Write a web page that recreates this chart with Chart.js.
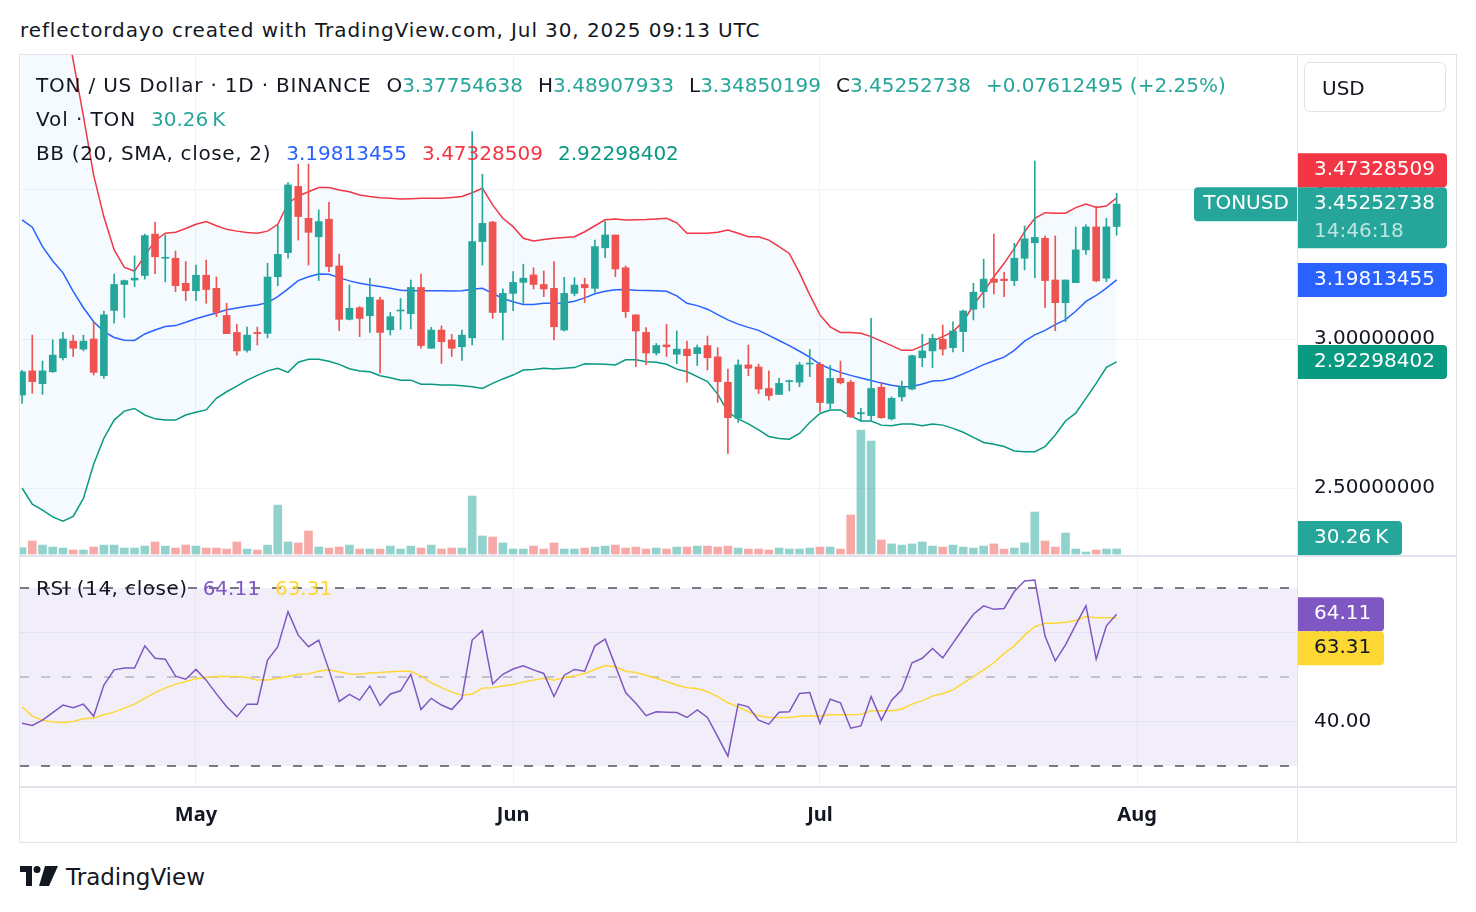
<!DOCTYPE html>
<html>
<head>
<meta charset="utf-8">
<title>TON / US Dollar · 1D · BINANCE</title>
<script src="https://cdn.jsdelivr.net/npm/chart.js@4.4.0/dist/chart.umd.min.js"></script>
<style>
  body { margin: 0; background: #fff; width: 1476px; height: 912px; position: relative; overflow: hidden;
         font-family: "DejaVu Sans", sans-serif; color: #131722; }
  .abs { position: absolute; }
  .line { background: #e0e3eb; position: absolute; z-index: 5; }
  #title { left: 20px; top: 16px; font-size: 20px; line-height: 28px; white-space: nowrap; letter-spacing: 0.9px; }
  .legend { left: 36px; font-size: 20px; line-height: 24px; white-space: nowrap; z-index: 6; }
  .legend .v { margin-left: 15px; }
  .up { color: #26a69a; }
  #usd { left: 1304px; top: 62px; width: 142px; height: 50px; border: 1px solid #e0e3eb; border-radius: 6px;
         font-size: 20px; line-height: 50px; box-sizing: border-box; padding-left: 17px; z-index: 6; }
  #logo { left: 20px; top: 866px; }
  #brand { left: 66px; top: 862px; font-size: 23px; line-height: 30px; }
</style>
</head>
<body>
<div id="title" class="abs">reflectordayo created with TradingView.com, Jul 30, 2025 09:13 UTC</div>

<canvas id="priceChart" class="abs" width="1436" height="500" style="left:20px;top:55px"></canvas>
<canvas id="rsiChart" class="abs" width="1436" height="285" style="left:20px;top:557px"></canvas>

<!-- frame and pane separators -->
<div class="line" style="left:19px;top:54px;width:1438px;height:1px"></div>
<div class="line" style="left:19px;top:842px;width:1438px;height:1px"></div>
<div class="line" style="left:19px;top:54px;width:1px;height:789px"></div>
<div class="line" style="left:1456px;top:54px;width:1px;height:789px"></div>
<div class="line" style="left:1297px;top:54px;width:1px;height:789px"></div>
<div class="line" style="left:20px;top:555px;width:1436px;height:2px"></div>
<div class="line" style="left:20px;top:786px;width:1436px;height:2px"></div>

<div class="abs legend" style="top:73px"><span style="letter-spacing:0.8px">TON / US Dollar · 1D · BINANCE</span><span class="v">O<span class="up" id="legO"></span></span><span class="v">H<span class="up" id="legH"></span></span><span class="v">L<span class="up" id="legL"></span></span><span class="v">C<span class="up" id="legC"></span></span><span class="v up" id="legChg"></span></div>
<div class="abs legend" style="top:107px"><span style="letter-spacing:0.9px">Vol · TON</span><span class="v up" id="legVol"></span></div>
<div class="abs legend" style="top:141px"><span style="letter-spacing:0.65px">BB (20, SMA, close, 2)</span><span class="v" style="color:#2962ff" id="legBasis"></span><span class="v" style="color:#f23645" id="legUpper"></span><span class="v" style="color:#089981" id="legLower"></span></div>
<div class="abs legend" style="top:576px"><span style="letter-spacing:0.5px">RSI (14, close)</span><span class="v" style="color:#7e57c2" id="legRsi"></span><span class="v" style="color:#fdd835" id="legRsiMa"></span></div>

<div id="usd" class="abs">USD</div>

<svg id="logo" class="abs" width="40" height="22" viewBox="0 0 40 22">
  <path d="M0 0 H12 V20 H6 V6 H0 Z" fill="#131722"/>
  <circle cx="17" cy="3.5" r="3.5" fill="#131722"/>
  <path d="M25 0 H38 L29 20 H19 Z" fill="#131722"/>
</svg>
<div id="brand" class="abs">TradingView</div>

<script>
// ========== DATA ========== //
// one daily candle per entry, Apr 14 2025 .. Jul 30 2025 (index 0 .. 107)
const monthTicks = [17, 48, 78, 109];
const monthLabels = ['May', 'Jun', 'Jul', 'Aug'];
const priceTicks = [2.5, 3.0, 3.5];
const rsiTicks = [40, 60];
const rsiLevels = [70, 50, 30];

const openPrices = [
  2.812, 2.893, 2.850, 2.890, 2.937, 2.993, 2.966, 3.000, 2.877, 3.096,
  3.183, 3.198, 3.213, 3.352, 3.271, 3.271, 3.187, 3.162, 3.214, 3.170,
  3.079, 3.022, 2.962, 3.022, 3.019, 3.209, 3.290, 3.512, 3.405, 3.343,
  3.402, 3.245, 3.066, 3.105, 3.078, 3.131, 3.031, 3.094, 3.085, 3.173,
  2.969, 3.030, 2.997, 2.974, 3.004, 3.327, 3.392, 3.089, 3.153, 3.190,
  3.215, 3.183, 3.170, 3.030, 3.153, 3.183, 3.170, 3.306, 3.349, 3.239,
  3.081, 3.022, 2.953, 2.980, 2.949, 2.966, 2.951, 2.978, 2.940, 2.855,
  2.734, 2.913, 2.906, 2.834, 2.814, 2.857, 2.855, 2.916, 2.915, 2.784,
  2.868, 2.855, 2.749, 2.743, 2.838, 2.732, 2.806, 2.832, 2.937, 2.960,
  2.999, 2.971, 3.025, 3.100, 3.159, 3.201, 3.201, 3.196, 3.271, 3.323,
  3.338, 3.198, 3.122, 3.189, 3.299, 3.376, 3.204, 3.37754638
];
const highPrices = [
  2.895, 3.013, 2.926, 2.997, 3.022, 3.013, 3.013, 3.056, 3.094, 3.218,
  3.198, 3.279, 3.352, 3.392, 3.349, 3.295, 3.260, 3.248, 3.265, 3.208,
  3.120, 3.049, 3.040, 3.040, 3.254, 3.383, 3.525, 3.587, 3.587, 3.433,
  3.459, 3.285, 3.181, 3.109, 3.204, 3.140, 3.089, 3.136, 3.198, 3.218,
  3.039, 3.044, 3.016, 3.030, 3.696, 3.553, 3.395, 3.168, 3.226, 3.251,
  3.239, 3.228, 3.260, 3.207, 3.206, 3.204, 3.332, 3.394, 3.349, 3.245,
  3.081, 3.038, 2.985, 3.049, 3.027, 2.993, 2.980, 3.010, 2.971, 2.899,
  2.930, 2.980, 2.916, 2.893, 2.868, 2.862, 2.922, 2.965, 2.922, 2.911,
  2.926, 2.862, 2.767, 3.069, 2.855, 2.806, 2.859, 2.946, 3.016, 3.016,
  3.047, 3.058, 3.097, 3.187, 3.268, 3.352, 3.224, 3.321, 3.379, 3.597,
  3.346, 3.346, 3.198, 3.376, 3.383, 3.446, 3.405, 3.48907933
];
const lowPrices = [
  2.784, 2.818, 2.814, 2.888, 2.930, 2.941, 2.960, 2.879, 2.868, 3.053,
  3.072, 3.176, 3.201, 3.219, 3.192, 3.159, 3.129, 3.129, 3.120, 3.075,
  3.018, 2.946, 2.956, 2.980, 3.004, 3.179, 3.271, 3.332, 3.248, 3.196,
  3.226, 3.028, 3.064, 3.008, 3.022, 2.885, 3.013, 3.032, 3.034, 2.969,
  2.969, 2.918, 2.941, 2.928, 2.980, 3.248, 3.069, 2.997, 3.095, 3.120,
  3.168, 3.142, 2.997, 3.027, 3.145, 3.123, 3.157, 3.273, 3.209, 3.072,
  2.907, 2.913, 2.946, 2.941, 2.917, 2.855, 2.911, 2.896, 2.787, 2.616,
  2.720, 2.877, 2.817, 2.795, 2.814, 2.826, 2.840, 2.874, 2.756, 2.765,
  2.849, 2.736, 2.723, 2.725, 2.734, 2.728, 2.792, 2.829, 2.907, 2.904,
  2.946, 2.957, 2.957, 3.064, 3.105, 3.151, 3.142, 3.179, 3.232, 3.206,
  3.105, 3.028, 3.058, 3.189, 3.284, 3.192, 3.192, 3.34850199
];
const closePrices = [
  2.890, 2.857, 2.893, 2.946, 3.000, 2.969, 2.993, 2.888, 3.081, 3.183,
  3.196, 3.204, 3.347, 3.276, 3.274, 3.179, 3.162, 3.214, 3.166, 3.089,
  3.018, 2.960, 3.013, 3.018, 3.208, 3.284, 3.517, 3.411, 3.358, 3.394,
  3.243, 3.066, 3.103, 3.069, 3.140, 3.022, 3.075, 3.097, 3.173, 2.978,
  3.030, 2.991, 2.969, 3.013, 3.327, 3.388, 3.089, 3.153, 3.190, 3.204,
  3.183, 3.168, 3.041, 3.153, 3.181, 3.172, 3.310, 3.349, 3.235, 3.092,
  3.027, 2.953, 2.978, 2.974, 2.966, 2.944, 2.971, 2.937, 2.857, 2.736,
  2.913, 2.902, 2.832, 2.810, 2.851, 2.860, 2.913, 2.918, 2.787, 2.868,
  2.853, 2.739, 2.753, 2.834, 2.736, 2.801, 2.840, 2.944, 2.960, 3.002,
  2.966, 3.027, 3.094, 3.157, 3.201, 3.190, 3.196, 3.271, 3.336, 3.341,
  3.196, 3.122, 3.198, 3.299, 3.376, 3.195, 3.37640243, 3.45252738
];
// volume in thousands of TON
const volumes = [
  38, 79, 54, 42, 36, 24, 24, 42, 54, 54,
  36, 36, 48, 73, 48, 36, 54, 48, 36, 36,
  30, 73, 30, 24, 54, 296, 73, 67, 139, 42,
  36, 42, 54, 30, 30, 30, 48, 30, 48, 36,
  54, 30, 36, 36, 351, 109, 103, 67, 30, 30,
  48, 30, 67, 30, 30, 36, 42, 48, 54, 36,
  42, 30, 36, 30, 42, 42, 48, 48, 42, 48,
  36, 30, 30, 24, 36, 30, 30, 36, 42, 42,
  30, 236, 750, 684, 85, 61, 54, 61, 73, 48,
  42, 54, 42, 36, 48, 61, 30, 36, 67, 254,
  79, 42, 127, 30, 12, 24, 30, 30.26
];
const bbUpper = [
  4.60, 4.52, 4.42, 4.28, 4.12, 3.935, 3.748, 3.55, 3.41, 3.30,
  3.24, 3.228, 3.28, 3.33, 3.355, 3.358, 3.371, 3.385, 3.394, 3.38,
  3.368, 3.362, 3.357, 3.355, 3.362, 3.385, 3.455, 3.48, 3.494, 3.508,
  3.508, 3.500, 3.494, 3.483, 3.478, 3.474, 3.472, 3.470, 3.471, 3.472,
  3.472, 3.472, 3.475, 3.478, 3.491, 3.506, 3.450, 3.405, 3.377, 3.338,
  3.329, 3.334, 3.338, 3.341, 3.343, 3.36, 3.38, 3.40, 3.403, 3.399,
  3.400, 3.401, 3.403, 3.405, 3.390, 3.355, 3.355, 3.355, 3.358, 3.366,
  3.355, 3.343, 3.343, 3.332, 3.310, 3.287, 3.222, 3.148, 3.081, 3.041,
  3.022, 3.022, 3.019, 3.008, 2.993, 2.978, 2.962, 2.962, 2.977, 2.993,
  3.008, 3.025, 3.058, 3.114, 3.159, 3.209, 3.254, 3.304, 3.360, 3.405,
  3.424, 3.422, 3.422, 3.441, 3.453, 3.441, 3.446, 3.47328509
];
const bbBasis = [
  3.40, 3.375, 3.31, 3.262, 3.222, 3.16, 3.105, 3.058, 3.025, 3.005,
  2.996, 2.995, 3.017, 3.030, 3.042, 3.045, 3.056, 3.068, 3.078, 3.087,
  3.098, 3.104, 3.110, 3.114, 3.122, 3.142, 3.168, 3.196, 3.209, 3.218,
  3.217, 3.206, 3.195, 3.187, 3.181, 3.176, 3.170, 3.164, 3.162, 3.162,
  3.162, 3.162, 3.161, 3.162, 3.167, 3.170, 3.153, 3.136, 3.125, 3.116,
  3.116, 3.120, 3.120, 3.121, 3.127, 3.138, 3.152, 3.160, 3.165, 3.166,
  3.164, 3.163, 3.162, 3.160, 3.145, 3.120, 3.112, 3.100, 3.082, 3.064,
  3.050, 3.039, 3.029, 3.012, 2.995, 2.978, 2.959, 2.939, 2.915, 2.900,
  2.888, 2.878, 2.869, 2.861, 2.852, 2.845, 2.840, 2.841, 2.849, 2.859,
  2.861, 2.869, 2.883, 2.898, 2.914, 2.927, 2.939, 2.962, 2.993, 3.014,
  3.029, 3.048, 3.065, 3.093, 3.126, 3.146, 3.171, 3.19813455
];
const bbLower = [
  2.500, 2.446, 2.426, 2.403, 2.389, 2.405, 2.465, 2.58, 2.667, 2.728,
  2.758, 2.767, 2.745, 2.732, 2.728, 2.728, 2.745, 2.754, 2.762, 2.801,
  2.823, 2.842, 2.862, 2.878, 2.893, 2.902, 2.888, 2.922, 2.932, 2.932,
  2.925, 2.915, 2.900, 2.893, 2.890, 2.877, 2.870, 2.862, 2.862, 2.848,
  2.848, 2.846, 2.846, 2.843, 2.840, 2.834, 2.851, 2.866, 2.879, 2.896,
  2.898, 2.902, 2.899, 2.902, 2.904, 2.917, 2.916, 2.915, 2.913, 2.930,
  2.930, 2.924, 2.922, 2.915, 2.899, 2.890, 2.874, 2.857, 2.815, 2.755,
  2.732, 2.715, 2.695, 2.673, 2.666, 2.664, 2.683, 2.720, 2.750, 2.762,
  2.762, 2.742, 2.725, 2.725, 2.711, 2.709, 2.715, 2.715, 2.709, 2.715,
  2.711, 2.700, 2.687, 2.670, 2.653, 2.647, 2.639, 2.624, 2.622, 2.622,
  2.639, 2.678, 2.725, 2.751, 2.801, 2.851, 2.905, 2.92298402
];
const rsiValues = [
  39.6, 39.1, 40.3, 42.0, 43.7, 43.1, 43.9, 41.2, 48.2, 51.6,
  52.0, 52.0, 57.0, 54.2, 54.0, 50.2, 49.5, 51.7, 49.3, 46.2,
  43.3, 41.1, 43.9, 43.9, 53.8, 56.8, 64.7, 59.4, 56.8, 58.3,
  51.6, 44.5, 46.1, 44.8, 48.0, 43.6, 46.2, 46.9, 50.6, 42.7,
  45.2, 43.7, 42.7, 45.2, 58.3, 60.4, 48.4, 50.6, 51.8, 52.5,
  51.6, 50.8, 45.6, 50.4, 51.7, 51.3, 57.0, 58.5, 52.5, 46.5,
  44.1, 41.3, 42.2, 42.1, 42.0, 40.9, 42.6, 40.9, 36.6, 32.2,
  43.9, 43.3, 40.3, 39.4, 42.1, 42.2, 46.3, 46.5, 39.6, 45.0,
  44.2, 38.5, 39.0, 45.6, 40.3, 44.8, 47.1, 53.2, 54.2, 56.4,
  54.3, 57.6, 60.9, 64.1, 66.0, 65.2, 65.4, 69.2, 71.6, 71.8,
  59.2, 53.6, 57.2, 61.7, 66.0, 54.0, 61.5, 64.11
];
const rsiMA = [
  43.3, 41.2, 40.3, 39.9, 39.8, 40.0, 40.6, 40.8, 41.5, 42.1,
  43.0, 43.9, 45.2, 46.5, 47.5, 48.4, 49.0, 49.6, 49.9, 50.1,
  50.1, 50.1, 49.9, 49.3, 49.3, 49.7, 50.1, 50.6, 50.7, 51.3,
  51.6, 51.1, 50.7, 50.6, 50.9, 51.0, 51.2, 51.3, 51.3, 50.2,
  48.7, 47.6, 46.6, 45.9, 46.2, 47.5, 47.6, 48.0, 48.3, 48.9,
  49.3, 49.7, 49.3, 49.9, 50.2, 50.8, 51.7, 52.6, 52.3, 51.3,
  51.0, 50.4, 49.7, 49.0, 48.2, 47.6, 47.4, 46.7, 45.6, 44.2,
  43.3, 42.2, 41.3, 40.9, 40.9, 40.9, 41.2, 41.3, 41.2, 41.5,
  41.5, 41.5, 41.6, 42.4, 42.4, 42.4, 42.8, 43.9, 44.7, 45.7,
  46.3, 47.1, 48.6, 50.1, 51.6, 53.2, 55.3, 57.0, 59.4, 61.3,
  62.1, 62.1, 62.3, 62.7, 63.6, 63.3, 63.3, 63.31
];

// ========== HELPERS ========== //
const FONT = '"DejaVu Sans", sans-serif';
Chart.defaults.font.family = FONT;
const upColor = '#26a69a';
const downColor = '#ef5350';
const last = closePrices.length - 1;
const isUp = closePrices.map((c, i) => c >= openPrices[i]);
const pts = arr => arr.map((v, i) => ({ x: i, y: v }));

function drawTag(ctx, x, top, w, h, bg, radii) {
    ctx.fillStyle = bg;
    ctx.beginPath();
    ctx.roundRect(x, top, w, h, radii);
    ctx.fill();
}

function xScale(showLabels) {
    return {
        type: 'linear',
        min: -0.2,
        max: 124.63,
        offset: false,
        afterBuildTicks: axis => { axis.ticks = monthTicks.map(v => ({ value: v })); },
        grid: { color: '#f0f3fa', drawTicks: false, offset: false },
        border: { display: false },
        ticks: showLabels ? {
            padding: 16,
            maxRotation: 0,
            autoSkip: false,
            color: '#131722',
            font: { family: '"Noto Sans", sans-serif', size: 20, weight: 'bold' },
            callback: v => monthLabels[monthTicks.indexOf(v)]
        } : { display: false },
        afterFit: showLabels ? (axis => { axis.height = 55; }) : undefined
    };
}

// ========== LEGEND TEXT ========== //
const chg = closePrices[last] - closePrices[last - 1];
document.getElementById('legO').textContent = openPrices[last].toFixed(8);
document.getElementById('legH').textContent = highPrices[last].toFixed(8);
document.getElementById('legL').textContent = lowPrices[last].toFixed(8);
document.getElementById('legC').textContent = closePrices[last].toFixed(8);
document.getElementById('legChg').textContent = '+' + chg.toFixed(8) + ' (+' + (chg / closePrices[last - 1] * 100).toFixed(2) + '%)';
document.getElementById('legVol').textContent = volumes[last].toFixed(2) + '\u2009K';
document.getElementById('legBasis').textContent = bbBasis[last].toFixed(8);
document.getElementById('legUpper').textContent = bbUpper[last].toFixed(8);
document.getElementById('legLower').textContent = bbLower[last].toFixed(8);
document.getElementById('legRsi').textContent = rsiValues[last].toFixed(2);
document.getElementById('legRsiMa').textContent = rsiMA[last].toFixed(2);

// ========== PRICE PANE ========== //
const priceScalePlugin = {
    id: 'priceScale',
    afterDraw(chart) {
        const { ctx, chartArea: area, scales: { y, yv } } = chart;
        const tagX = area.right + 1;
        const textX = area.right + 17;
        ctx.save();
        ctx.font = '20px ' + FONT;
        ctx.textBaseline = 'middle';
        ctx.textAlign = 'left';
        ctx.fillStyle = '#131722';
        priceTicks.forEach(v => ctx.fillText(v.toFixed(8), textX, y.getPixelForValue(v)));

        // last price tag with countdown
        const closeY = y.getPixelForValue(closePrices[last]);
        const closeTop = closeY - 17;
        drawTag(ctx, tagX, closeTop, 149, 61, upColor, [0, 4, 4, 0]);
        ctx.fillStyle = '#fff';
        ctx.fillText(closePrices[last].toFixed(8), textX, closeY);
        ctx.fillStyle = 'rgba(255,255,255,0.7)';
        ctx.fillText('14:46:18', textX, closeY + 28);
        drawTag(ctx, area.right - 103, closeTop, 103, 34, upColor, [4, 0, 0, 4]);
        ctx.fillStyle = '#fff';
        ctx.textAlign = 'center';
        ctx.fillText('TONUSD', area.right - 51, closeY);
        ctx.textAlign = 'left';

        // Bollinger tags, pushed off the last price tag
        [[bbUpper, '#f23645'], [bbBasis, '#2962ff'], [bbLower, '#089981']].forEach(([arr, color]) => {
            let top = y.getPixelForValue(arr[last]) - 17;
            if (top + 34 > closeTop && top < closeTop + 61) {
                top = top < closeTop ? closeTop - 34 : closeTop + 61;
            }
            drawTag(ctx, tagX, top, 149, 34, color, [0, 4, 4, 0]);
            ctx.fillStyle = '#fff';
            ctx.fillText(arr[last].toFixed(8), textX, top + 17);
        });

        // volume tag
        const vTop = Math.min(yv.getPixelForValue(volumes[last]) - 17, area.bottom - 34);
        drawTag(ctx, tagX, vTop, 104, 34, upColor, [0, 4, 4, 0]);
        ctx.fillStyle = '#fff';
        ctx.fillText(volumes[last].toFixed(2) + '\u2009K', textX, vTop + 17);
        ctx.restore();
    }
};

new Chart(document.getElementById('priceChart'), {
    type: 'bar',
    data: {
        datasets: [
            {
                type: 'line', label: 'BB upper', data: pts(bbUpper),
                borderColor: '#f23645', borderWidth: 1.5, pointRadius: 0,
                fill: { target: 2 }, backgroundColor: 'rgba(33,150,243,0.05)', order: 5
            },
            {
                type: 'line', label: 'BB basis', data: pts(bbBasis),
                borderColor: '#2962ff', borderWidth: 1.5, pointRadius: 0, fill: false, order: 4
            },
            {
                type: 'line', label: 'BB lower', data: pts(bbLower),
                borderColor: '#089981', borderWidth: 1.5, pointRadius: 0, fill: false, order: 3
            },
            {
                label: 'Volume', yAxisID: 'yv', data: pts(volumes),
                backgroundColor: isUp.map(u => u ? 'rgba(38,166,154,0.5)' : 'rgba(239,83,80,0.5)'),
                barThickness: 8, maxBarThickness: 8, grouped: false, order: 6
            },
            {
                label: 'Wicks', data: lowPrices.map((l, i) => ({ x: i, y: [l, highPrices[i]] })),
                backgroundColor: isUp.map(u => u ? upColor : downColor),
                barThickness: 1, maxBarThickness: 1, grouped: false, order: 1
            },
            {
                label: 'Bodies', data: openPrices.map((o, i) => ({ x: i, y: [o, closePrices[i]] })),
                backgroundColor: isUp.map(u => u ? upColor : downColor),
                barThickness: 7, maxBarThickness: 7, minBarLength: 1, grouped: false, order: 0
            }
        ]
    },
    options: {
        responsive: false,
        devicePixelRatio: 1,
        animation: false,
        events: [],
        layout: { padding: { left: 0, right: 159, top: 0, bottom: 0 } },
        plugins: { legend: { display: false }, tooltip: { enabled: false } },
        scales: {
            x: xScale(false),
            y: {
                type: 'linear', position: 'right', min: 2.2752, max: 3.953,
                afterBuildTicks: axis => { axis.ticks = priceTicks.map(v => ({ value: v })); },
                grid: { color: '#f0f3fa', drawTicks: false },
                border: { display: false },
                ticks: { display: false }
            },
            yv: { type: 'linear', display: false, min: -6, max: 3020 }
        }
    },
    plugins: [priceScalePlugin]
});

// ========== RSI PANE ========== //
const rsiPanePlugin = {
    id: 'rsiPane',
    beforeDatasetsDraw(chart) {
        const { ctx, chartArea: a, scales: { y } } = chart;
        const yTop = y.getPixelForValue(rsiLevels[0]);
        const yBot = y.getPixelForValue(rsiLevels[2]);
        ctx.save();
        ctx.fillStyle = 'rgba(126,87,194,0.1)';
        ctx.fillRect(a.left, yTop, a.right - a.left, yBot - yTop);
        ctx.setLineDash([9, 12]);
        rsiLevels.forEach((lvl, k) => {
            const py = Math.round(y.getPixelForValue(lvl));
            ctx.strokeStyle = k === 1 ? 'rgba(120,123,134,0.5)' : '#787b86';
            ctx.lineWidth = k === 1 ? 1.5 : 2;
            ctx.beginPath();
            ctx.moveTo(a.left, py);
            ctx.lineTo(a.right, py);
            ctx.stroke();
        });
        ctx.restore();
    },
    afterDraw(chart) {
        const { ctx, chartArea: area, scales: { y } } = chart;
        const tagX = area.right + 1;
        const textX = area.right + 17;
        ctx.save();
        ctx.font = '20px ' + FONT;
        ctx.textBaseline = 'middle';
        ctx.fillStyle = '#131722';
        rsiTicks.forEach(v => ctx.fillText(v.toFixed(2), textX, y.getPixelForValue(v)));

        const rsiTop = y.getPixelForValue(rsiValues[last]) - 17;
        drawTag(ctx, tagX, rsiTop, 86, 34, '#7e57c2', [0, 4, 4, 0]);
        ctx.fillStyle = '#fff';
        ctx.fillText(rsiValues[last].toFixed(2), textX, rsiTop + 17);

        let maTop = y.getPixelForValue(rsiMA[last]) - 17;
        if (maTop < rsiTop + 34) maTop = rsiTop + 34;
        drawTag(ctx, tagX, maTop, 86, 34, '#fdd835', [0, 4, 4, 0]);
        ctx.fillStyle = '#131722';
        ctx.fillText(rsiMA[last].toFixed(2), textX, maTop + 17);
        ctx.restore();
    }
};

new Chart(document.getElementById('rsiChart'), {
    type: 'line',
    data: {
        datasets: [
            { label: 'RSI-based MA', data: pts(rsiMA), borderColor: '#fdd835', borderWidth: 1.5, pointRadius: 0, order: 1 },
            { label: 'RSI', data: pts(rsiValues), borderColor: '#7e57c2', borderWidth: 1.5, pointRadius: 0, order: 0 }
        ]
    },
    options: {
        responsive: false,
        devicePixelRatio: 1,
        animation: false,
        events: [],
        layout: { padding: { left: 0, right: 159, top: 0, bottom: 0 } },
        plugins: { legend: { display: false }, tooltip: { enabled: false } },
        scales: {
            x: xScale(true),
            y: {
                type: 'linear', position: 'right', min: 25.281, max: 76.966,
                afterBuildTicks: axis => { axis.ticks = rsiTicks.map(v => ({ value: v })); },
                grid: { color: '#f0f3fa', drawTicks: false },
                border: { display: false },
                ticks: { display: false }
            }
        }
    },
    plugins: [rsiPanePlugin]
});
</script>
</body>
</html>
